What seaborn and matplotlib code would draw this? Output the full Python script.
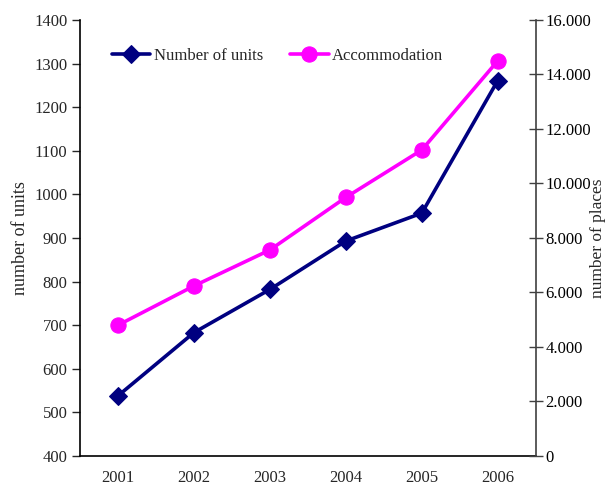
import numpy as np
import pandas as pd
import seaborn as sns
import matplotlib
matplotlib.use("Agg")
from matplotlib import pyplot as plt
from matplotlib.ticker import FuncFormatter, FixedLocator

# data
years = ["2001", "2002", "2003", "2004", "2005", "2006"]
units = [538, 683, 782, 893, 957, 1261]
places = [4800, 6240, 7560, 9490, 11230, 14500]

df = pd.DataFrame({"year": years, "units": units, "places": places})

sns.set_style("white")
plt.rcParams["font.family"] = ["Liberation Serif", "DejaVu Serif"]
plt.rcParams["font.size"] = 12

fig = plt.figure(figsize=(6.06, 4.91), dpi=100)
ax = fig.add_axes([0.132, 0.0713, 0.752, 0.888])
ax2 = ax.twinx()

navy = "#000080"
pink = "#FF00FF"

sns.lineplot(data=df, x="year", y="units", ax=ax, color=navy, lw=2.6,
             marker="D", markersize=9, markeredgecolor=navy, label="Number of units",
             legend=False)
sns.lineplot(data=df, x="year", y="places", ax=ax2, color=pink, lw=2.6,
             marker="o", markersize=11, markeredgecolor=pink, label="Accommodation",
             legend=False)

ax.set_xlim(-0.5, len(years) - 0.5)
ax.set_ylim(400, 1400)
ax.set_yticks(np.arange(400, 1401, 100))
ax2.set_ylim(0, 16000)
ax2.set_yticks(np.arange(0, 16001, 2000))
ax2.yaxis.set_major_formatter(FuncFormatter(lambda v, p: f"{int(v):,}".replace(",", ".")))

# category ticks between categories, labels at centres
ax.xaxis.set_major_locator(FixedLocator(np.arange(-0.5, len(years), 1)))
ax.xaxis.set_major_formatter(FuncFormatter(lambda v, p: ""))
ax.set_xticks(np.arange(len(years)), labels=years, minor=True)
ax.tick_params(axis="x", which="major", direction="out", length=6, width=1, colors="black")
ax.tick_params(axis="x", which="minor", length=0, pad=10, labelsize=12)

ax.tick_params(axis="y", direction="out", length=6, width=1, left=True, labelsize=12, pad=3)
ax2.tick_params(axis="y", direction="inout", length=10, width=1, right=True, labelsize=12,
                colors="#404040", labelcolor="black", pad=2)

ax.spines["top"].set_visible(False)
ax2.spines["top"].set_visible(False)
ax.spines["right"].set_visible(False)
ax2.spines["left"].set_visible(False)
ax2.spines["bottom"].set_visible(False)
ax.spines["left"].set_color("black")
ax.spines["bottom"].set_color("black")
ax2.spines["right"].set_color("#404040")
for sp in [ax.spines["left"], ax.spines["bottom"], ax2.spines["right"]]:
    sp.set_linewidth(1.2)

ax.set_xlabel("")
ax.set_ylabel("number of units", fontsize=13, labelpad=4)
ax2.set_ylabel("number of places", fontsize=12.5, labelpad=-0.5)

h1, l1 = ax.get_legend_handles_labels()
h2, l2 = ax2.get_legend_handles_labels()
ax2.legend(h1 + h2, l1 + l2, loc="upper left", bbox_to_anchor=(0.037, 0.97), ncol=2,
           frameon=False, handlelength=2.3, handletextpad=0.2, columnspacing=1.65,
           fontsize=12)

plt.savefig("out.png", dpi=100)
